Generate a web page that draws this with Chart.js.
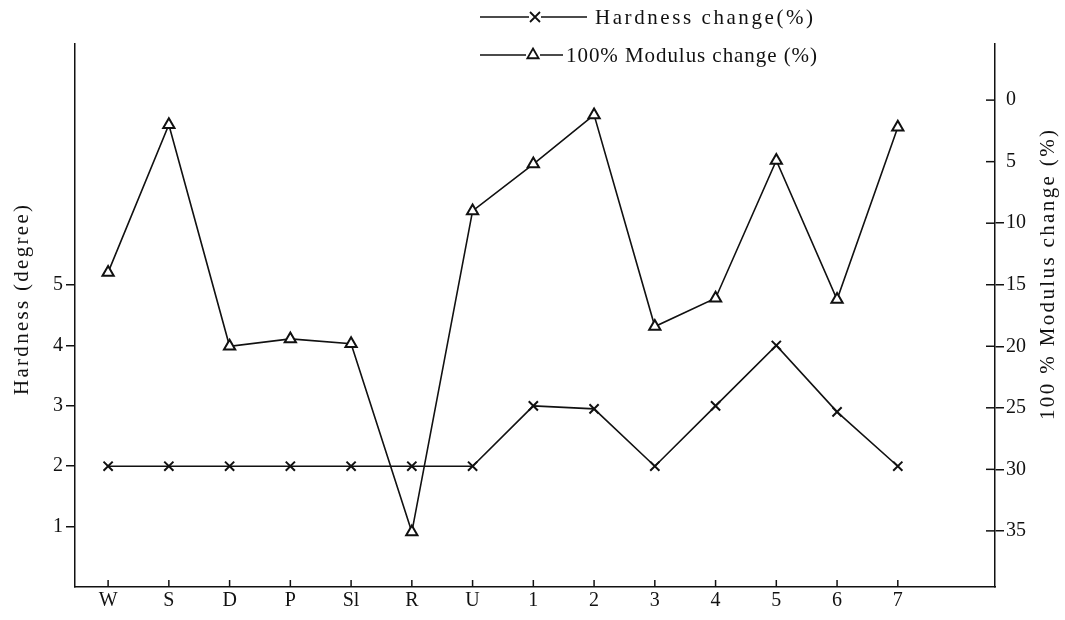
<!DOCTYPE html>
<html><head><meta charset="utf-8">
<script src="https://cdn.jsdelivr.net/npm/chart.js@4/dist/chart.umd.min.js"></script>
<style>html,body{margin:0;padding:0;background:#fff}#wrap{width:1065px;height:620px}</style>
</head><body><div id="wrap"><canvas id="c" width="1065" height="620"></canvas></div>
<script>
const categories = ['W','S','D','P','Sl','R','U','1','2','3','4','5','6','7'];
const hardness = [2, 2, 2, 2, 2, 2, 2, 3, 2.95, 2, 3, 4, 2.9, 2];
const modulus = [14.0, 2.0, 20.0, 19.4, 19.8, 35.1, 9.0, 5.2, 1.2, 18.4, 16.1, 4.9, 16.2, 2.2];
const hardnessTicks = [1, 2, 3, 4, 5];
const modulusTicks = [0, 5, 10, 15, 20, 25, 30, 35];
const hardnessLabel = 'Hardness change(%)';
const modulusLabel = '100% Modulus change (%)';
const leftTitle = 'Hardness (degree)';
const rightTitle = '100 % Modulus change (%)';

const FONT = '"Liberation Serif", "DejaVu Serif", serif';
const ink = '#111';

function spacedText(ctx, text, x, y, targetW, align) {
  const w0 = ctx.measureText(text).width;
  const sp = Math.max(0, (targetW - w0) / (text.length - 1));
  const total = w0 + sp * (text.length - 1);
  let cx = align === 'center' ? x - total / 2 : x;
  ctx.textAlign = 'left';
  for (const ch of text) { ctx.fillText(ch, cx, y); cx += ctx.measureText(ch).width + sp; }
}
function drawCross(ctx, x, y, r) {
  ctx.beginPath();
  ctx.moveTo(x - r, y - r); ctx.lineTo(x + r, y + r);
  ctx.moveTo(x + r, y - r); ctx.lineTo(x - r, y + r);
  ctx.stroke();
}
function drawTri(ctx, x, y, r) {
  ctx.beginPath();
  ctx.moveTo(x, y - r);
  ctx.lineTo(x + r * 0.866, y + r * 0.5);
  ctx.lineTo(x - r * 0.866, y + r * 0.5);
  ctx.closePath();
  ctx.fillStyle = '#fff'; ctx.fill(); ctx.stroke();
}

const decor = {
  id: 'decor',
  afterDraw(chart) {
    const ctx = chart.ctx;
    const xs = chart.scales.x, y2 = chart.scales.y2;
    const area = chart.chartArea;
    ctx.save();
    ctx.strokeStyle = ink; ctx.lineWidth = 1.5;
    categories.forEach((c, i) => {
      const px = xs.getPixelForValue(i);
      ctx.beginPath(); ctx.moveTo(px, area.bottom); ctx.lineTo(px, area.bottom - 7); ctx.stroke();
    });
    modulusTicks.forEach(v => {
      const py = y2.getPixelForValue(v);
      ctx.beginPath(); ctx.moveTo(area.right - 9, py); ctx.lineTo(area.right, py); ctx.stroke();
    });
    // legend
    ctx.fillStyle = ink;
    ctx.font = '21px ' + FONT;
    ctx.textBaseline = 'middle';
    const r1 = 17, r2 = 55;
    ctx.lineWidth = 1.5;
    ctx.beginPath(); ctx.moveTo(480, r1); ctx.lineTo(529, r1); ctx.moveTo(541, r1); ctx.lineTo(587, r1); ctx.stroke();
    ctx.lineWidth = 1.8; drawCross(ctx, 535, r1, 5);
    ctx.fillStyle = ink;
    spacedText(ctx, hardnessLabel, 595, r1 + 1, 218, 'left');
    ctx.lineWidth = 1.5;
    ctx.beginPath(); ctx.moveTo(480, r2); ctx.lineTo(526, r2); ctx.moveTo(540, r2); ctx.lineTo(563, r2); ctx.stroke();
    ctx.lineWidth = 1.8; drawTri(ctx, 533, r2, 6.5);
    ctx.fillStyle = ink;
    spacedText(ctx, modulusLabel, 566, r2 + 1, 251, 'left');
    // axis titles
    ctx.save();
    ctx.translate(22, 300); ctx.rotate(-Math.PI / 2);
    spacedText(ctx, leftTitle, 0, 0, 190, 'center');
    ctx.restore();
    ctx.save();
    ctx.translate(1048, 275); ctx.rotate(-Math.PI / 2);
    spacedText(ctx, rightTitle, 0, 0, 290, 'center');
    ctx.restore();
    ctx.restore();
  }
};

new Chart(document.getElementById('c'), {
  type: 'line',
  data: {
    datasets: [
      {
        label: hardnessLabel, yAxisID: 'y',
        data: categories.map((c, i) => ({ x: i, y: hardness[i] })),
        borderColor: ink, borderWidth: 1.6, tension: 0,
        pointStyle: 'crossRot', pointRadius: 6.5, pointBorderWidth: 2,
        pointBorderColor: ink, pointBackgroundColor: '#fff'
      },
      {
        label: modulusLabel, yAxisID: 'y2',
        data: categories.map((c, i) => ({ x: i, y: modulus[i] })),
        borderColor: ink, borderWidth: 1.6, tension: 0,
        pointStyle: 'triangle', pointRadius: 6.5, pointBorderWidth: 2,
        pointBorderColor: ink, pointBackgroundColor: '#fff'
      }
    ]
  },
  options: {
    responsive: false, animation: false, devicePixelRatio: 1,
    layout: { padding: { top: 43.5, left: 0, right: 0, bottom: 0 } },
    plugins: { legend: { display: false }, tooltip: { enabled: false } },
    scales: {
      x: {
        type: 'linear', min: -0.545, max: 14.6,
        afterBuildTicks: s => { s.ticks = categories.map((c, i) => ({ value: i })); },
        afterFit: s => { s.height = 33; },
        ticks: { callback: v => (categories[v] !== undefined ? categories[v] : ''), font: { family: FONT, size: 20 }, color: ink, padding: 2, maxRotation: 0, autoSkip: false },
        grid: { display: true, drawOnChartArea: false, drawTicks: false },
        border: { display: true, color: ink, width: 1.5 }
      },
      y: {
        type: 'linear', position: 'left', min: 0, max: 9,
        afterBuildTicks: s => { s.ticks = hardnessTicks.map(v => ({ value: v })); },
        afterFit: s => { s.width = 75; },
        ticks: { font: { family: FONT, size: 20 }, color: ink, padding: 3 },
        grid: { drawOnChartArea: false, drawTicks: true, tickLength: 9, color: ink, lineWidth: 1.5 },
        border: { display: true, color: ink, width: 1.5 }
      },
      y2: {
        type: 'linear', position: 'right', reverse: true, min: -4.6, max: 39.56,
        afterBuildTicks: s => { s.ticks = modulusTicks.map(v => ({ value: v })); },
        afterFit: s => { s.width = 70; },
        ticks: { callback: v => String(v), font: { family: FONT, size: 20 }, color: ink, padding: 2 },
        grid: { drawOnChartArea: false, drawTicks: true, tickLength: 9, lineWidth: 1.5,
          color: c => (c.tick && c.tick.value >= 10 ? ink : 'rgba(0,0,0,0)') },
        border: { display: true, color: ink, width: 1.5 }
      }
    }
  },
  plugins: [decor]
});
</script></body></html>
